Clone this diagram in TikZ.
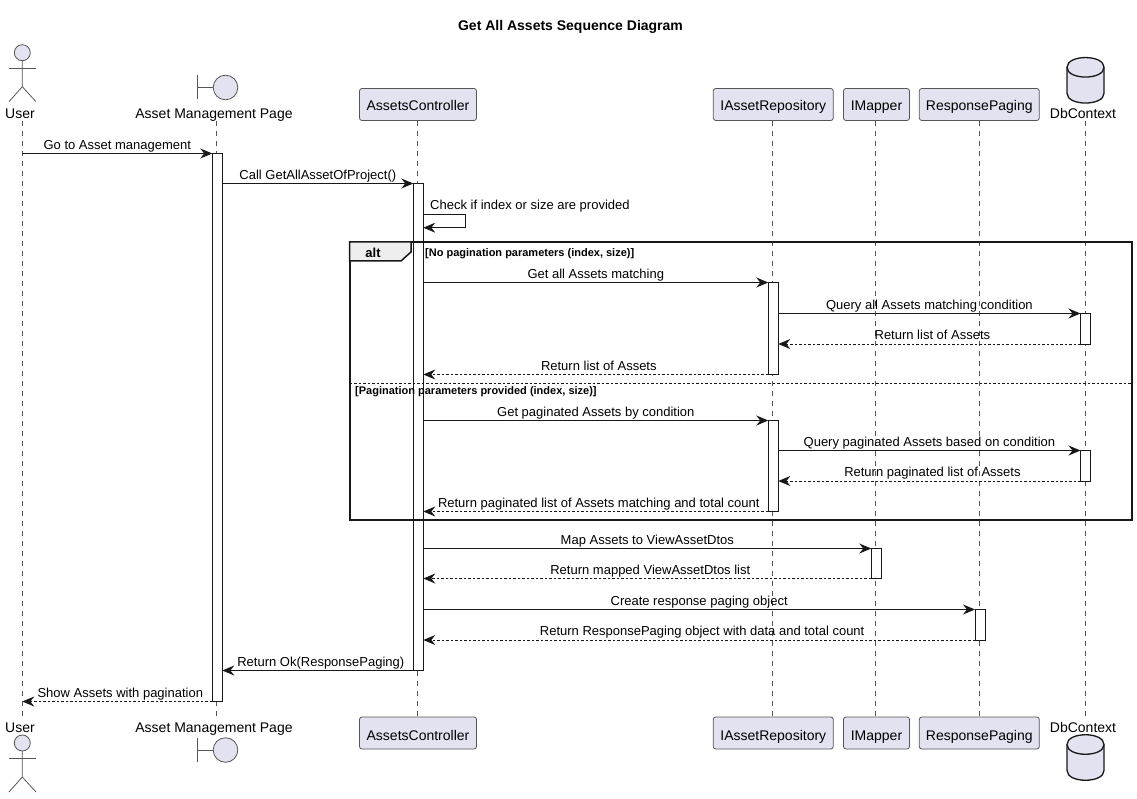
\documentclass[tikz,border=0pt]{standalone}
\usepackage{fontspec}
\setmainfont{Liberation Sans}
\usepackage{xcolor}
\usetikzlibrary{arrows.meta}
\definecolor{partfill}{HTML}{E2E2F0}
\definecolor{partline}{HTML}{555555}
\definecolor{ink}{HTML}{181818}
\definecolor{tabfill}{HTML}{EEEEEE}

\begin{document}
\begin{tikzpicture}[x=1pt, y=-1pt, >={Stealth[length=12pt,width=10pt,inset=4pt]}]
\tikzstyle{part} = [draw=partline, fill=partfill, rectangle, rounded corners=2.5pt, line width=0.8pt, minimum height=32pt, outer sep=0pt, inner sep=0pt, text height=12pt, text depth=0pt, font=\fontsize{14}{16}\selectfont]
\tikzstyle{partlow} = [part, text height=14pt]
\tikzstyle{partname} = [anchor=base, inner sep=0pt, font=\fontsize{14}{16}\selectfont]
\tikzstyle{figshape} = [draw=partline, fill=partfill, line width=0.8pt]
\tikzstyle{lifeline} = [draw=partline, line width=0.7pt, dash pattern=on 5pt off 5pt]
\tikzstyle{bar} = [draw=ink, fill=white, rectangle, line width=1pt, minimum width=10pt, outer sep=0pt, inner sep=0pt]
\tikzstyle{msg} = [draw=ink, line width=1pt, ->]
\tikzstyle{reply} = [msg, dash pattern=on 2.5pt off 2pt]
\tikzstyle{msgtext} = [midway, anchor=base, yshift=4.3pt, inner sep=0pt, text=black, font=\fontsize{13}{15}\selectfont]
\tikzstyle{replytext} = [msgtext, xshift=3pt]
\tikzstyle{guard} = [anchor=base west, inner sep=0pt, font=\fontsize{11}{13}\selectfont\bfseries]
\useasboundingbox (0,0) rectangle (1137,799);

\def\actorfig#1{
\draw[figshape] (22.3,#1) circle (8);
\draw[partline, line width=0.8pt] (22.3,#1+8) -- (22.3,#1+34) -- (9,#1+49);
\draw[partline, line width=0.8pt] (22.3,#1+34) -- (36,#1+49);
\draw[partline, line width=0.8pt] (9,#1+15.5) -- (36,#1+15.5);
}
\def\boundaryfig#1{
\draw[partline, line width=0.8pt] (197,#1-12) -- (197,#1+12);
\draw[partline, line width=0.8pt] (197,#1) -- (213,#1);
\draw[figshape] (225.5,#1) circle (12.3);
}
\def\dbfig#1{
\draw[draw=ink, fill=partfill, line width=1.3pt] (1067,#1+10) .. controls (1067,#1-3) and (1104,#1-3) .. (1104,#1+10) -- (1104,#1+36) .. controls (1104,#1+49) and (1067,#1+49) .. (1067,#1+36) -- cycle;
\draw[draw=ink, line width=1.3pt] (1067,#1+10) .. controls (1067,#1+23) and (1104,#1+23) .. (1104,#1+10);
}

    % title and the rows of the messages
    \node[anchor=base, inner sep=0pt, font=\fontsize{14}{16}\selectfont\bfseries] (title) at (570.5,31) {Get All Assets Sequence Diagram};
    \foreach \row/\y in {1/153.5,2/183.5,3/214.3,4/227.7,5/282.5,6/313.5,7/344,8/374.5,9/420.5,10/450.5,11/481,12/511.5,13/548.5,14/578.5,15/609.5,16/640,17/670.5,18/701.5,sep/383.5}
        \coordinate (r\row) at (0,\y);

    % lifelines
    \foreach \n/\x in {user/22.3,page/216.3,ctrl/417.3,repo/772.3,mapper/875.5,paging/979.3,db/1085.7} {
        \coordinate (\n T) at (\x,121);
        \coordinate (\n B) at (\x,717);
        \draw[lifeline] (\n T) -- (\n B);
    }

    % participants on top
    \actorfig{52.7}
    \boundaryfig{87.5}
    \dbfig{57.3}
    \node[partname] (userTop) at (20,119) {User};
    \node[partname] (pageTop) at (214,119) {Asset Management Page};
    \node[partname] (dbTop) at (1083,119) {DbContext};
    \node[part, minimum width=117pt] (ctrlTop) at (418,104.5) {AssetsController};
    \node[part, minimum width=120pt] (repoTop) at (773.3,104.5) {IAssetRepository};
    \node[part, minimum width=66pt] (mapperTop) at (876.5,104.5) {IMapper};
    \node[part, minimum width=120pt] (pagingTop) at (979.3,104.5) {ResponsePaging};

    % participants below
    \actorfig{743}
    \boundaryfig{750}
    \dbfig{734.5}
    \node[partname] (userBot) at (20,732.5) {User};
    \node[partname] (pageBot) at (214,732.5) {Asset Management Page};
    \node[partname] (dbBot) at (1083,732.5) {DbContext};
    \node[partlow, minimum width=117pt] (ctrlBot) at (418,733) {AssetsController};
    \node[partlow, minimum width=120pt] (repoBot) at (773.3,733) {IAssetRepository};
    \node[partlow, minimum width=66pt] (mapperBot) at (876.5,733) {IMapper};
    \node[partlow, minimum width=120pt] (pagingBot) at (979.3,733) {ResponsePaging};

    % activation bars
    \node[bar, minimum height=548pt] (pageBar) at (217.3,427.5) {};
    \node[bar, minimum height=487pt] (ctrlBar) at (418.3,427) {};
    \node[bar, minimum height=92pt] (repoBarA) at (773.3,328.5) {};
    \node[bar, minimum height=91pt] (repoBarB) at (773.3,466) {};
    \node[bar, minimum height=31pt] (dbBarA) at (1085.5,329) {};
    \node[bar, minimum height=31pt] (dbBarB) at (1085.5,466) {};
    \node[bar, minimum height=30pt] (mapperBar) at (876.3,563.5) {};
    \node[bar, minimum height=30.5pt] (pagingBar) at (980,624.75) {};

    % the alt frame goes over the bars
    \node[draw=ink, rectangle, line width=2pt, minimum width=782pt, minimum height=277.5pt, inner sep=0pt, outer sep=0pt] (altFrame) at (740.6,380.75) {};
    \coordinate (tabA) at (411,242);
    \coordinate (tabB) at (411,252);
    \coordinate (tabC) at (401,261);
    \coordinate (tabD) at (349.6,261);
    \draw[draw=ink, fill=tabfill, line width=1.5pt] (altFrame.north west) -- (tabA) -- (tabB) -- (tabC) -- (tabD) -- cycle;
    \node[anchor=base, inner sep=0pt, font=\fontsize{13}{15}\selectfont\bfseries] (altName) at (373,258) {alt};
    \node[guard] (guardA) at (425,257) {[No pagination parameters (index, size)]};
    \node[guard] (guardB) at (355,394.5) {[Pagination parameters provided (index, size)]};
    \draw[draw=ink, line width=0.8pt, dash pattern=on 2.5pt off 2pt] (altFrame.west |- rsep) -- (altFrame.east |- rsep);

    % messages
    \draw[msg] (userT |- r1) -- node[msgtext] (m1) {Go to Asset management} (pageBar.west |- r1);
    \draw[msg] (pageBar.east |- r2) -- node[msgtext] (m2) {Call GetAllAssetOfProject()} (ctrlBar.west |- r2);
    \coordinate (selfA) at (465.5,214.3);
    \coordinate (selfB) at (465.5,227.7);
    \draw[msg] (ctrlBar.east |- r3) -- (selfA) -- (selfB) -- (ctrlBar.east |- r4);
    \node[anchor=base west, inner sep=0pt, font=\fontsize{13}{15}\selectfont] (m3) at (430,210) {Check if index or size are provided};
    \draw[msg] (ctrlBar.east |- r5) -- node[msgtext] (m5) {Get all Assets matching} (repoBarA.west |- r5);
    \draw[msg] (repoBarA.east |- r6) -- node[msgtext] (m6) {Query all Assets matching condition} (dbBarA.west |- r6);
    \draw[reply] (dbBarA.west |- r7) -- node[replytext] (m7) {Return list of Assets} (repoBarA.east |- r7);
    \draw[reply] (repoBarA.west |- r8) -- node[replytext] (m8) {Return list of Assets} (ctrlBar.east |- r8);
    \draw[msg] (ctrlBar.east |- r9) -- node[msgtext] (m9) {Get paginated Assets by condition} (repoBarB.west |- r9);
    \draw[msg] (repoBarB.east |- r10) -- node[msgtext] (m10) {Query paginated Assets based on condition} (dbBarB.west |- r10);
    \draw[reply] (dbBarB.west |- r11) -- node[replytext] (m11) {Return paginated list of Assets} (repoBarB.east |- r11);
    \draw[reply] (repoBarB.west |- r12) -- node[replytext] (m12) {Return paginated list of Assets matching and total count} (ctrlBar.east |- r12);
    \draw[msg] (ctrlBar.east |- r13) -- node[msgtext] (m13) {Map Assets to ViewAssetDtos} (mapperBar.west |- r13);
    \draw[reply] (mapperBar.west |- r14) -- node[replytext] (m14) {Return mapped ViewAssetDtos list} (ctrlBar.east |- r14);
    \draw[msg] (ctrlBar.east |- r15) -- node[msgtext] (m15) {Create response paging object} (pagingBar.west |- r15);
    \draw[reply] (pagingBar.west |- r16) -- node[replytext] (m16) {Return ResponsePaging object with data and total count} (ctrlBar.east |- r16);
    \draw[msg] (ctrlBar.west |- r17) -- node[replytext] (m17) {Return Ok(ResponsePaging)} (pageBar.east |- r17);
    \draw[reply] (pageBar.west |- r18) -- node[replytext] (m18) {Show Assets with pagination} (userT |- r18);

\end{tikzpicture}
\end{document}
